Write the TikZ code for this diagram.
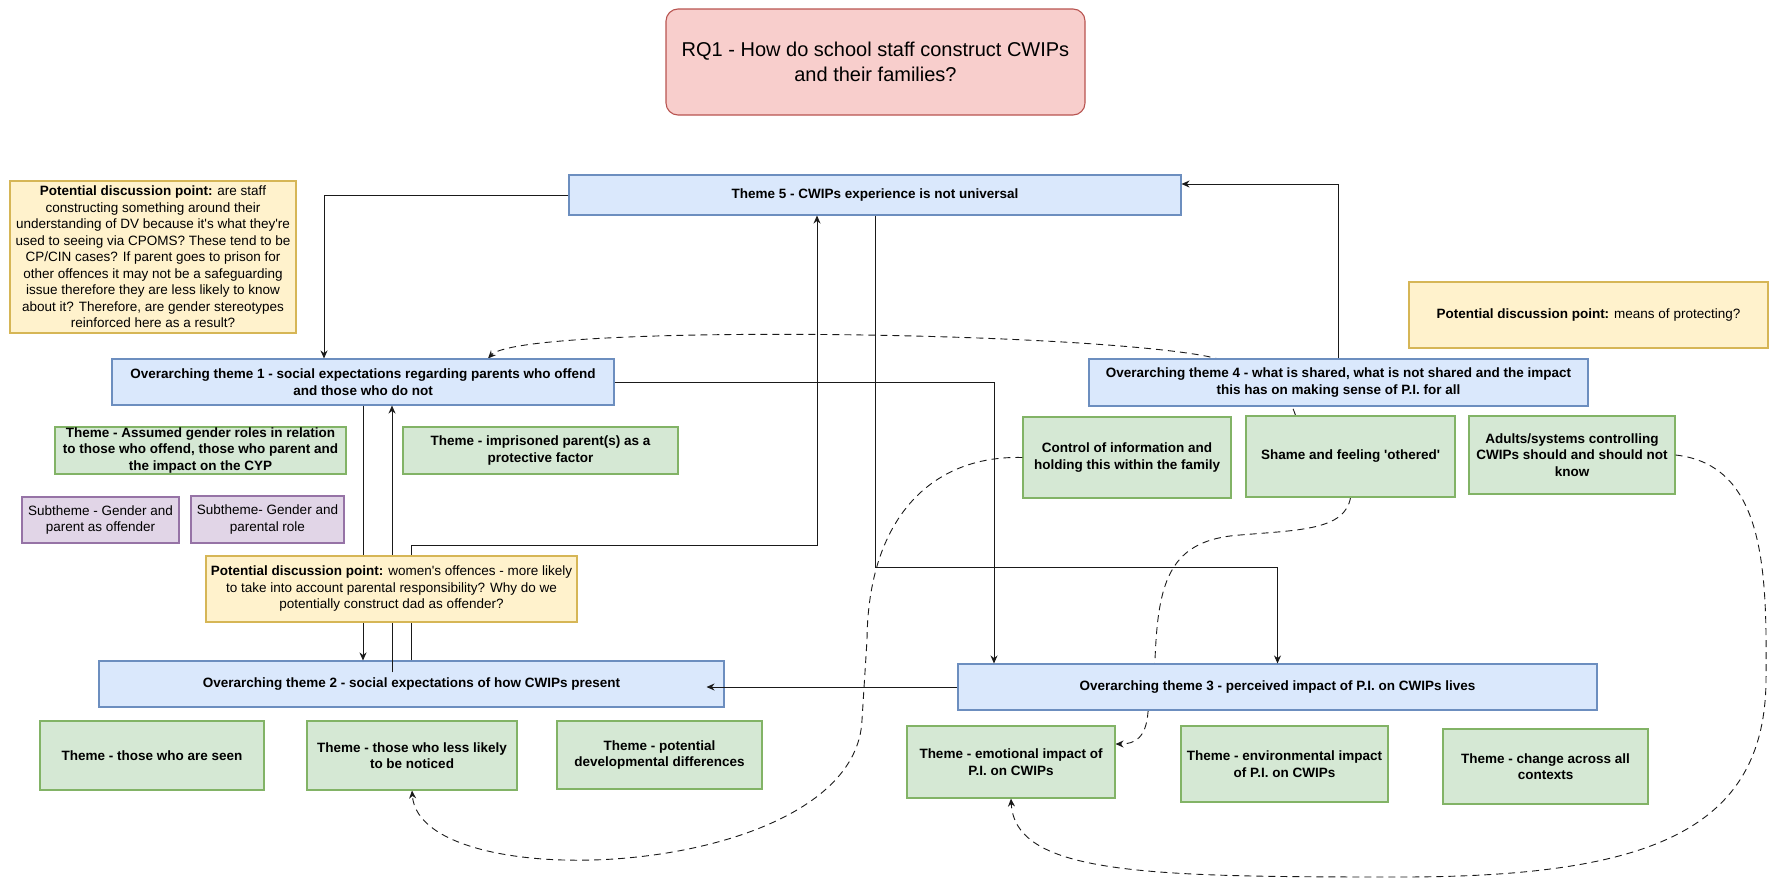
\documentclass[tikz,border=0pt]{standalone}
\usepackage{fontspec}
\setmainfont{Liberation Sans}[Ligatures=TeXOff]
\usepackage{xcolor}
\definecolor{Blue}{HTML}{6C8EBF}
\definecolor{BlueLight}{HTML}{DAE8FC}
\definecolor{Green}{HTML}{82B366}
\definecolor{GreenLight}{HTML}{D5E8D4}
\definecolor{Yellow}{HTML}{D6B656}
\definecolor{YellowLight}{HTML}{FFF2CC}
\definecolor{Purple}{HTML}{9673A6}
\definecolor{PurpleLight}{HTML}{E1D5E7}
\definecolor{Red}{HTML}{B85450}
\definecolor{RedLight}{HTML}{F8CECC}
\definecolor{Line}{HTML}{1A1A1A}
\usepackage{tikz}
\usetikzlibrary{arrows.meta, backgrounds}
\newcommand{\boxfont}{\fontsize{13.5}{16.5}\selectfont}
\tikzset{
  box/.style={
    rectangle, line width=1.1pt,
    minimum width=#1, inner sep=0pt,
    align=center, font=\boxfont\bfseries
  },
  box/.default=200pt,
  oBox/.style={box=#1, fill=BlueLight, draw=Blue},
  tBox/.style={box=#1, fill=GreenLight, draw=Green},
  sBox/.style={box=#1, fill=PurpleLight, draw=Purple, font=\boxfont},
  pBox/.style={box=#1, fill=YellowLight, draw=Yellow, font=\boxfont},
  arr/.style={-{Stealth[length=8pt, width=7pt]}, line width=0.9pt, color=Line},
  dArr/.style={arr, dash pattern=on 7pt off 5pt},
}

\begin{document}
\begin{tikzpicture}[x=1pt, y=-1pt]
\useasboundingbox (0,0) rectangle (1769,881);

\node[box=419pt, minimum height=106pt, rounded corners=12pt, fill=RedLight, draw=Red,
  font=\fontsize{20}{25}\selectfont] at (875.5,62) (rq) {
  RQ1 - How do school staff construct CWIPs\\
  and their families?};

\node[pBox=286pt, minimum height=152pt] at (153,257) (dp1) {
  \textbf{Potential discussion point:} are staff\\
  constructing something around their\\
  understanding of DV because it's what they're\\
  used to seeing via CPOMS? These tend to be\\
  CP/CIN cases? If parent goes to prison for\\
  other offences it may not be a safeguarding\\
  issue therefore they are less likely to know\\
  about it? Therefore, are gender stereotypes\\
  reinforced here as a result?};

\node[oBox=612pt, minimum height=40pt] at (875,195) (t5) {Theme 5 - CWIPs experience is not universal};

\node[pBox=359pt, minimum height=66pt] at (1588.5,315) (dp2) {
  \textbf{Potential discussion point:} means of protecting?};

% Overarching themes
\node[oBox=502pt, minimum height=46pt] at (363,382) (ot1) {
  Overarching theme 1 - social expectations regarding parents who offend\\
  and those who do not};
\node[oBox=499pt, minimum height=47pt] at (1338.5,382.5) (ot4) {
  Overarching theme 4 - what is shared, what is not shared and the impact\\
  this has on making sense of P.I. for all};
\node[oBox=625pt, minimum height=46pt] at (411.5,684) (ot2) {
  Overarching theme 2 - social expectations of how CWIPs present};
\node[oBox=639pt, minimum height=46pt] at (1277.5,687) (ot3) {
  Overarching theme 3 - perceived impact of P.I. on CWIPs lives};

% Themes
\node[tBox=291pt, minimum height=47pt] at (200.5,450.5) (gender) {
  Theme - Assumed gender roles in relation\\
  to those who offend, those who parent and\\
  the impact on the CYP};
\node[tBox=275pt, minimum height=47pt] at (540.5,450.5) (prison) {
  Theme - imprisoned parent(s) as a\\
  protective factor};
\node[tBox=208pt, minimum height=81pt] at (1127,457.5) (control) {
  Control of information and\\
  holding this within the family};
\node[tBox=209pt, minimum height=81pt] at (1350.5,456.5) (shame) {
  Shame and feeling 'othered'};
\node[tBox=206pt, minimum height=78pt] at (1572,455) (adults) {
  Adults/systems controlling\\
  CWIPs should and should not\\
  know};
\node[sBox=157pt, minimum height=46pt] at (100.5,520) (sub1) {
  Subtheme - Gender and\\
  parent as offender};
\node[sBox=153pt, minimum height=47pt] at (267.5,519.5) (sub2) {
  Subtheme- Gender and\\
  parental role};
\node[tBox=224pt, minimum height=69pt] at (152,755.5) (seen) {
  Theme - those who are seen};
\node[tBox=210pt, minimum height=69pt] at (412,755.5) (less) {
  Theme - those who less likely\\
  to be noticed};
\node[tBox=205pt, minimum height=68pt] at (659.5,755) (dev) {
  Theme - potential\\
  developmental differences};
\node[tBox=208pt, minimum height=72pt] at (1011,762) (emo) {
  Theme - emotional impact of\\
  P.I. on CWIPs};
\node[tBox=207pt, minimum height=76pt] at (1284.5,764) (env) {
  Theme - environmental impact\\
  of P.I. on CWIPs};
\node[tBox=205pt, minimum height=75pt] at (1545.5,766.5) (change) {
  Theme - change across all\\
  contexts};

% Links
\draw[arr] (t5.west) -| ([xshift=-39pt]ot1.north);
\draw[arr] (ot4.north) |- ([yshift=11pt]t5.east);
\draw[arr] (ot1.east) -| ([xshift=-283.5pt]ot3.north);
\draw[arr] (t5.south) -- ++(0,352) -| (ot3.north);
\draw[arr] (ot2.north) -- ++(0,-115) -| ([xshift=-58pt]t5.south);
\draw[arr] (ot1.south) -- (ot1.south |- ot2.north);
\draw[arr] ([shift={(-19.5pt,-12pt)}]ot2.north) coordinate (up) -- (up |- ot1.south);
\draw[arr, shorten >=-18pt] (ot3.west) -- (ot3.west -| ot2.east);

\draw[dArr] (control.west) .. controls (930,455) and (868,520) .. (867,640)
  -- (862,720) .. controls (855,880) and (420,900) .. (less.south);
\draw[dArr] (adults.east) .. controls (1765,465) and (1767,570) .. (1766,680)
  .. controls (1765,830) and (1650,877) .. (1400,877)
  .. controls (1150,877) and (1015,875) .. (emo.south);
\begin{scope}[on background layer]
\draw[dArr] ([xshift=-55pt]shame.north) .. controls (1285,380) and (1240,362) .. (1200,355)
  .. controls (1050,330) and (520,325) .. ([xshift=125pt]ot1.north);
\draw[dArr] (shame.south) .. controls (1345,530) and (1300,530) .. (1240,535)
  .. controls (1170,540) and (1158,580) .. (1155,660) -- (1148,712)
  .. controls (1146,738) and (1135,744) .. ([yshift=18pt]emo.east);
\end{scope}

\node[pBox=371pt, minimum height=66pt] at (391.5,589) (dp3) {
  \textbf{Potential discussion point:} women's offences - more likely\\
  to take into account parental responsibility? Why do we\\
  potentially construct dad as offender?};

\end{tikzpicture}
\end{document}
